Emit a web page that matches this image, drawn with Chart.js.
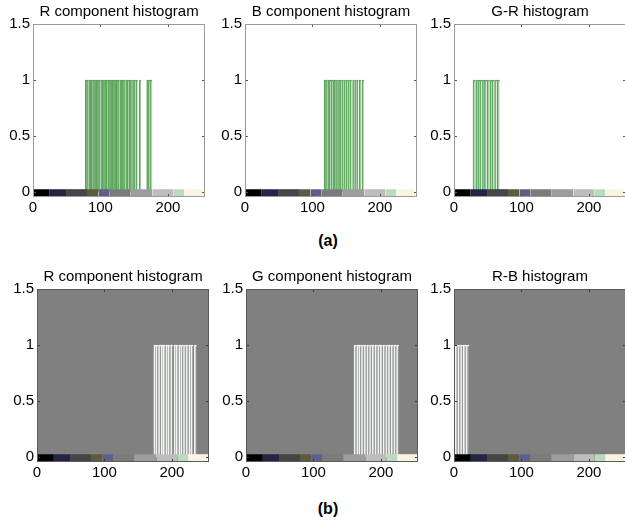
<!DOCTYPE html>
<html>
<head>
<meta charset="utf-8">
<script src="https://cdn.jsdelivr.net/npm/chart.js@4.4.1/dist/chart.umd.min.js"></script>
<style>
  body { margin: 0; width: 625px; height: 523px; overflow: hidden; position: relative; background: #fff;
         font-family: Arial, "Liberation Sans", sans-serif; }
  canvas { position: absolute; }
  .cap { position: absolute; width: 60px; text-align: center; font-weight: bold; font-size: 16px; color: #000; }
</style>
</head>
<body>
<div class="cap" style="left:298px;top:232px">(a)</div>
<div class="cap" style="left:298px;top:500px">(b)</div>
<script>
// axis ticks
const xTicks = [0, 100, 200];
const yTicks = [0, 0.5, 1, 1.5];
const yMin = -0.045;
const yMax = 1.5;

// colour strip along the bottom of every panel
const stripStops = [0, 25, 49, 80, 97, 113, 144, 177, 208, 224, 252, 255];
const stripColors = ['#000000', '#232547', '#464646', '#5e5b3d', '#5e5f8c', '#7b7b7b',
                     '#9c9ca0', '#bdbdbd', '#b9dcbf', '#fbf4e2', '#ffffff'];
const stripTop = 0.025;

const titles = ['R component histogram', 'B component histogram', 'G-R histogram',
                'R component histogram', 'G component histogram', 'R-B histogram'];

// (a) panels
const rBinsA = [79, 81, 84, 86, 88, 91, 93, 95, 97, 99, 102, 104, 106, 108, 110, 113, 115, 117, 119,
                121, 123, 125, 127, 130, 132, 134, 136, 139, 141, 144, 146, 149, 151, 154, 159, 170, 172, 175];
const rCountsA = [1, 1, 1, 1, 1, 1, 1, 1, 1, 1, 1, 1, 1, 1, 1, 1, 1, 1, 1,
                  1, 1, 1, 1, 1, 1, 1, 1, 1, 1, 1, 1, 1, 1, 1, 1, 1, 1, 1];
const bBinsA = [119, 121, 124, 126, 129, 132, 134, 137, 140, 142, 145, 148, 151, 154, 157, 161, 164, 167, 171, 175];
const bCountsA = [1, 1, 1, 1, 1, 1, 1, 1, 1, 1, 1, 1, 1, 1, 1, 1, 1, 1, 1, 1];
const grBinsA = [30, 34, 37, 40, 44, 47, 51, 55, 58, 62, 66];
const grCountsA = [1, 1, 1, 1, 1, 1, 1, 1, 1, 1, 1];

// (b) panels
const rBinsB = [175, 178, 182, 186, 189, 193, 196, 200, 205, 208, 212, 215, 219, 223, 227, 230, 235];
const rCountsB = [1, 1, 1, 1, 1, 1, 1, 1, 1, 1, 1, 1, 1, 1, 1, 1, 1];
const gBinsB = [162, 166, 169, 173, 177, 181, 185, 189, 193, 197, 201, 205, 209, 213, 217, 221, 225];
const gCountsB = [1, 1, 1, 1, 1, 1, 1, 1, 1, 1, 1, 1, 1, 1, 1, 1, 1];
const rbBinsB = [4, 8, 12, 16, 20];
const rbCountsB = [1, 1, 1, 1, 1];

const plotLefts = [33, 245, 454, 37, 246, 454];
const plotTops = [24, 24, 24, 289, 289, 289];

const framePlugin = {
  id: 'frame',
  beforeDraw(chart, args, opts) {
    const { ctx, chartArea: a } = chart;
    ctx.save();
    ctx.fillStyle = opts.bg;
    ctx.fillRect(a.left, a.top, a.width, a.height);
    ctx.restore();
  },
  afterDraw(chart, args, opts) {
    const { ctx, chartArea: a, scales } = chart;
    ctx.save();
    ctx.strokeStyle = opts.tickColor;
    ctx.lineWidth = 1;
    ctx.beginPath();
    xTicks.forEach(v => {
      const px = Math.round(scales.x.getPixelForValue(v)) + 0.5;
      ctx.moveTo(px, a.bottom); ctx.lineTo(px, a.bottom - 3);
      ctx.moveTo(px, a.top); ctx.lineTo(px, a.top + 3);
    });
    yTicks.forEach(v => {
      const py = Math.round(scales.y.getPixelForValue(v)) + 0.5;
      ctx.moveTo(a.left, py); ctx.lineTo(a.left + 3, py);
      ctx.moveTo(a.right, py); ctx.lineTo(a.right - 3, py);
    });
    ctx.stroke();
    ctx.strokeStyle = opts.line;
    ctx.strokeRect(a.left + 0.5, a.top + 0.5, a.width - 1, a.height - 1);
    ctx.restore();
  }
};

function makePanel(i, bins, counts, dark, thickness) {
  let canvas = document.createElement('canvas');
  canvas.width = 212;
  canvas.height = 217;
  canvas.style.left = (plotLefts[i] - 36) + 'px';
  canvas.style.top = (plotTops[i] - 24) + 'px';
  document.body.appendChild(canvas);

  let datasets = [];
  for (let k = 0; k < stripColors.length; k++) {
    datasets.push({
      type: 'line',
      data: [{ x: stripStops[k], y: stripTop }, { x: stripStops[k + 1], y: stripTop }],
      fill: { value: yMin },
      backgroundColor: stripColors[k],
      borderColor: 'rgba(0,0,0,0)',
      borderWidth: 0,
      pointRadius: 0,
      order: 0
    });
  }
  datasets.push({
    type: 'bar',
    data: bins.map((b, j) => ({ x: b, y: counts[j] })),
    barThickness: thickness,
    borderWidth: { left: 1, top: 1, right: 0, bottom: 0 },
    borderColor: dark ? '#f4f8f4' : '#5aa35a',
    backgroundColor: dark ? 'rgba(225,225,225,0.22)' : 'rgba(160,205,160,0.35)',
    order: 1
  });

  let tickFont = { family: 'Arial, "Liberation Sans", sans-serif', size: 15 };
  new Chart(canvas, {
    type: 'bar',
    data: { datasets: datasets },
    options: {
      responsive: false,
      animation: false,
      events: [],
      layout: { padding: { left: 0, right: 4, top: 0, bottom: 0 } },
      plugins: {
        legend: { display: false },
        tooltip: { enabled: false },
        title: {
          display: true,
          text: titles[i],
          fullSize: false,
          color: '#000',
          font: { family: 'Arial, "Liberation Sans", sans-serif', size: 15, weight: 'normal', lineHeight: 1.2 },
          padding: { top: 3, bottom: 3 }
        },
        frame: { bg: dark ? '#808080' : '#ffffff', line: dark ? '#5a5a5a' : '#9a9a9a', tickColor: dark ? '#3a3a3a' : '#555555' }
      },
      scales: {
        x: {
          type: 'linear',
          offset: false,
          min: 0,
          max: 255,
          afterBuildTicks: s => { s.ticks = xTicks.map(v => ({ value: v })); },
          afterFit: s => { s.height = 20; },
          grid: { display: false, drawTicks: false, offset: false },
          border: { display: false },
          ticks: { font: tickFont, color: '#000', padding: 2, maxRotation: 0, autoSkip: false }
        },
        y: {
          min: yMin,
          max: yMax,
          afterBuildTicks: s => { s.ticks = yTicks.map(v => ({ value: v })); },
          afterFit: s => { s.width = 36; },
          grid: { display: false, drawTicks: false },
          border: { display: false },
          ticks: { font: tickFont, color: '#000', padding: 3, callback: v => String(v) }
        }
      }
    },
    plugins: [framePlugin]
  });
}

makePanel(0, rBinsA, rCountsA, false, 2);
makePanel(1, bBinsA, bCountsA, false, 2);
makePanel(2, grBinsA, grCountsA, false, 2.5);
makePanel(3, rBinsB, rCountsB, true, 2.5);
makePanel(4, gBinsB, gCountsB, true, 2.5);
makePanel(5, rbBinsB, rbCountsB, true, 3);
</script>
</body>
</html>
